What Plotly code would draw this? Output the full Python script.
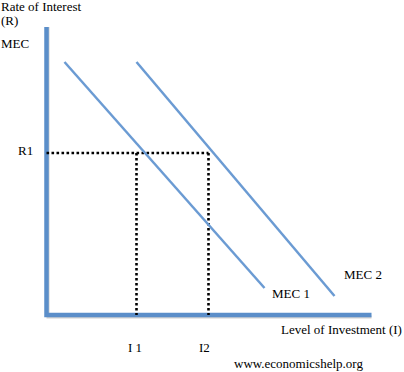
import plotly.graph_objects as go

# Conceptual data (arbitrary units, origin at the axes' corner)
axis_x_end = 325
axis_y_end = 288
mec1_x = [18, 218]
mec1_y = [253, 27]
mec2_x = [90, 288]
mec2_y = [253, 19]
R1 = 162
I1 = 90
I2 = 162

W, H = 404, 372
ox, oy = 46.5, 315  # pixel position of origin

def dx(px):
    return px - ox

def dy(py):
    return oy - py

AXIS_BLUE = "#5b8ec9"
LINE_BLUE = "#6b9bd3"
FONT = dict(family="Liberation Serif", size=13, color="#000000")
DOT = dict(color="black", width=2.6, dash="2.6px,2.4px")

fig = go.Figure()

# axis shadow
fig.add_trace(go.Scatter(x=[1.5, 1.5, axis_x_end], y=[axis_y_end, -2, -2], mode="lines",
                         line=dict(color="#d0d0d0", width=3), hoverinfo="skip"))
# axes
fig.add_trace(go.Scatter(x=[0, 0, axis_x_end], y=[axis_y_end, 0, 0], mode="lines",
                         line=dict(color=AXIS_BLUE, width=4.5), hoverinfo="skip"))
# dotted guides
fig.add_trace(go.Scatter(x=[0, I2], y=[R1, R1], mode="lines", line=DOT, hoverinfo="skip"))
fig.add_trace(go.Scatter(x=[I1, I1], y=[R1, 0], mode="lines", line=DOT, hoverinfo="skip"))
fig.add_trace(go.Scatter(x=[I2, I2], y=[R1, 0], mode="lines", line=DOT, hoverinfo="skip"))
# MEC curves
fig.add_trace(go.Scatter(x=mec1_x, y=mec1_y, mode="lines",
                         line=dict(color=LINE_BLUE, width=2.5), hoverinfo="skip"))
fig.add_trace(go.Scatter(x=mec2_x, y=mec2_y, mode="lines",
                         line=dict(color=LINE_BLUE, width=2.5), hoverinfo="skip"))

labels = [
    ("Rate of Interest", 0, 6, "left"),
    ("(R)", 0, 20, "left"),
    ("MEC", 0, 43, "left"),
    ("R1", 17, 150, "left"),
    ("I 1", 127, 347, "left"),
    ("I2", 198, 347, "left"),
    ("Level of Investment (I)", 403, 329, "right"),
    ("www.economicshelp.org", 233, 363, "left"),
    ("MEC 1", 271, 293, "left"),
    ("MEC 2", 343, 274, "left"),
]
for text, px, py, anchor in labels:
    fig.add_annotation(x=dx(px), y=dy(py), text=text, showarrow=False,
                       xanchor=anchor, yanchor="middle", font=FONT,
                       borderpad=0)

fig.update_layout(
    width=W, height=H,
    margin=dict(l=0, r=0, t=0, b=0),
    paper_bgcolor="white", plot_bgcolor="white",
    showlegend=False,
    xaxis=dict(range=[dx(0), dx(W)], visible=False, fixedrange=True),
    yaxis=dict(range=[dy(H), dy(0)], visible=False, fixedrange=True),
)

fig.write_html("out.html", config={"displayModeBar": False},
               post_script="document.body.style.margin='0';document.body.style.overflow='hidden';")
